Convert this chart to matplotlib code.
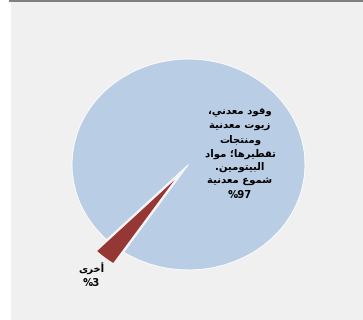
import matplotlib
matplotlib.use('Agg')
import matplotlib.pyplot as plt
from matplotlib.patches import Rectangle

# data
labels = ['وقود معدني،\nزيوت معدنية\nومنتجات\nتقطيرها؛ مواد\nالبيتومين.\nشموع معدنية', 'أخرى']
shares = [97, 3]
colors = ['#b9cde5', '#953735']

# arabic presentation forms: isolated, final, initial, medial
FORMS = {
    'ا': ('\uFE8D', '\uFE8E'), 'أ': ('\uFE83', '\uFE84'),
    'ب': ('\uFE8F', '\uFE90', '\uFE91', '\uFE92'), 'ة': ('\uFE93', '\uFE94'),
    'ت': ('\uFE95', '\uFE96', '\uFE97', '\uFE98'), 'ج': ('\uFE9D', '\uFE9E', '\uFE9F', '\uFEA0'),
    'خ': ('\uFEA5', '\uFEA6', '\uFEA7', '\uFEA8'), 'د': ('\uFEA9', '\uFEAA'),
    'ر': ('\uFEAD', '\uFEAE'), 'ز': ('\uFEAF', '\uFEB0'),
    'ش': ('\uFEB5', '\uFEB6', '\uFEB7', '\uFEB8'), 'ط': ('\uFEC1', '\uFEC2', '\uFEC3', '\uFEC4'),
    'ع': ('\uFEC9', '\uFECA', '\uFECB', '\uFECC'), 'ق': ('\uFED5', '\uFED6', '\uFED7', '\uFED8'),
    'ل': ('\uFEDD', '\uFEDE', '\uFEDF', '\uFEE0'), 'م': ('\uFEE1', '\uFEE2', '\uFEE3', '\uFEE4'),
    'ن': ('\uFEE5', '\uFEE6', '\uFEE7', '\uFEE8'), 'ه': ('\uFEE9', '\uFEEA', '\uFEEB', '\uFEEC'),
    'و': ('\uFEED', '\uFEEE'), 'ى': ('\uFEEF', '\uFEF0'),
    'ي': ('\uFEF1', '\uFEF2', '\uFEF3', '\uFEF4'),
}


def shape_line(s):
    out = []
    for i, c in enumerate(s):
        if c not in FORMS:
            out.append(c)
            continue
        f = FORMS[c]
        prev = s[i-1] if i > 0 else ''
        nxt = s[i+1] if i+1 < len(s) else ''
        jp = prev in FORMS and len(FORMS[prev]) == 4
        jn = len(f) == 4 and nxt in FORMS
        if jp and jn:
            out.append(f[3])
        elif jp:
            out.append(f[1])
        elif jn:
            out.append(f[2])
        else:
            out.append(f[0])
    return ''.join(reversed(out))


def shape(s):
    return '\n'.join(shape_line(l) for l in s.split('\n'))


fig = plt.figure(figsize=(3.63, 3.20), dpi=100)
fig.patch.set_facecolor('white')
fig.patches.append(Rectangle((11/363, 0), 1, 1 - 1/320, transform=fig.transFigure,
                             facecolor='#f0f0f0', edgecolor='none', zorder=-2))
fig.patches.append(Rectangle((9/363, 1 - 2/320), 1, 2/320, transform=fig.transFigure,
                             facecolor='#808080', edgecolor='none', zorder=-1))

ax = fig.add_axes([48.7/363, 28.9/320, 279.6/363, 253.2/320])
ax.pie(shares, colors=colors, startangle=-123.8, explode=[0, 0.14],
       wedgeprops=dict(edgecolor='white', linewidth=0.6))
ax.set_aspect('auto')
ax.set_xlim(-1.2, 1.2)
ax.set_ylim(-1.2, 1.2)
ax.axis('off')

fig.text(240/363, 166.5/320, shape(labels[0]) + '\n%' + str(shares[0]),
         ha='center', va='center', fontsize=7.3, fontweight='bold',
         family='DejaVu Sans', linespacing=1.45)
fig.text(91/363, 44.5/320, shape(labels[1]) + '\n%' + str(shares[1]),
         ha='center', va='center', fontsize=7.3, fontweight='bold',
         family='DejaVu Sans', linespacing=1.45)

fig.savefig('out.png', dpi=100)
